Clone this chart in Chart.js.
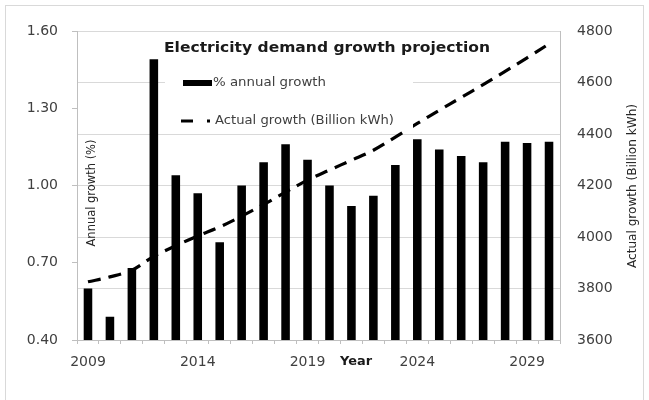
<!DOCTYPE html>
<html><head><meta charset="utf-8">
<script src="https://cdn.jsdelivr.net/npm/chart.js@4/dist/chart.umd.min.js"></script>
<style>html,body{margin:0;padding:0;background:#fff}#wrap{width:649px;height:400px;position:relative}</style>
</head><body><div id="wrap"><canvas id="c" width="649" height="400"></canvas></div>
<script>
const years = ['2009','2010','2011','2012','2013','2014','2015','2016','2017','2018','2019','2020','2021','2022','2023','2024','2025','2026','2027','2028','2029','2030'];
const annualGrowth = [0.60,0.49,0.68,1.49,1.04,0.97,0.78,1.00,1.09,1.16,1.10,1.00,0.92,0.96,1.08,1.18,1.14,1.115,1.09,1.17,1.165,1.17];
const actualGrowth = [3826,3845,3871,3925,3966,4004,4039,4081,4126,4174,4221,4260,4298,4337,4388,4441,4492,4542,4592,4643,4696,4750];
const shownYearLabels = ['2009','2014','2019','2024','2029'];
const leftTicks = [0.40,0.70,1.00,1.30,1.60];
const rightTicks = [3600,3800,4000,4200,4400,4600,4800];
const titleText = 'Electricity demand growth projection';
const barLabel = '% annual growth';
const lineLabel = 'Actual growth (Billion kWh)';
const leftTitle = 'Annual growth (%)';
const rightTitle = 'Actual growth (Billion kWh)';
const xTitle = 'Year';

const FONT = '"DejaVu Sans", sans-serif';
const TXT = '#404040';

function fitText(ctx, text, x, y, font, targetW, rot, align, color) {
  ctx.save();
  ctx.font = font;
  const w = ctx.measureText(text).width;
  const sx = targetW / w;
  ctx.translate(x, y);
  ctx.rotate(rot || 0);
  ctx.scale(sx, 1);
  ctx.textAlign = align || 'center';
  ctx.textBaseline = 'middle';
  ctx.fillStyle = color || TXT;
  ctx.fillText(text, 0, 0);
  ctx.restore();
}

const decor = {
  id: 'decor',
  afterDraw(chart) {
    const ctx = chart.ctx;
    ctx.save();
    ctx.strokeStyle = '#d9d9d9';
    ctx.lineWidth = 1;
    ctx.strokeRect(5.5, 5.5, 638, 420);
    ctx.restore();
    ctx.save();
    ctx.fillStyle = '#fff';
    ctx.fillRect(165, 64, 248, 66);
    ctx.fillStyle = '#000';
    ctx.fillRect(183, 80, 29, 6);
    ctx.strokeStyle = '#000';
    ctx.lineWidth = 3;
    ctx.beginPath(); ctx.moveTo(181, 121); ctx.lineTo(193, 121); ctx.stroke();
    ctx.fillRect(207, 119.5, 3, 3);
    ctx.restore();
    fitText(ctx, barLabel, 213, 83, '12.5px ' + FONT, 113, 0, 'left');
    fitText(ctx, lineLabel, 215, 121, '12.5px ' + FONT, 179, 0, 'left');
    fitText(ctx, titleText, 327, 48, 'bold 14px ' + FONT, 326, 0, 'center', '#1a1a1a');
    fitText(ctx, leftTitle, 92, 193, '12px ' + FONT, 107, -Math.PI / 2, 'center', '#262626');
    fitText(ctx, rightTitle, 633, 186, '13px ' + FONT, 164, -Math.PI / 2, 'center', '#262626');
    fitText(ctx, xTitle, 356, 362, 'bold 13px ' + FONT, 32, 0, 'center', '#1a1a1a');
  }
};

new Chart(document.getElementById('c'), {
  data: {
    labels: years,
    datasets: [
      { type: 'line', label: lineLabel, data: actualGrowth, yAxisID: 'yR', borderColor: '#000', borderWidth: 3.2,
        borderDash: [13, 8], borderCapStyle: 'butt', pointRadius: 0, tension: 0.35, fill: false, order: 1 },
      { type: 'bar', label: barLabel, data: annualGrowth, yAxisID: 'yL', backgroundColor: '#000',
        barPercentage: 0.39, categoryPercentage: 1, order: 2 }
    ]
  },
  options: {
    responsive: false, animation: false, devicePixelRatio: 1,
    layout: { padding: { top: 31, left: 0, right: 0, bottom: 0 } },
    plugins: { legend: { display: false }, title: { display: false }, tooltip: { enabled: false } },
    scales: {
      x: {
        type: 'category',
        grid: { offset: true, drawOnChartArea: false, tickLength: 4, color: '#bfbfbf' },
        border: { color: '#bfbfbf' },
        ticks: { autoSkip: false, maxRotation: 0, minRotation: 0, padding: 10, color: TXT,
          font: { family: FONT, size: 14 },
          callback: (v, i) => shownYearLabels.includes(years[i]) ? years[i] : '' },
        afterFit: s => { s.height = 60; }
      },
      yL: {
        position: 'left', min: 0.4, max: 1.6,
        afterBuildTicks: s => { s.ticks = leftTicks.map(v => ({ value: v })); },
        grid: { drawOnChartArea: false, tickLength: 5, color: '#bfbfbf' },
        border: { color: '#bfbfbf' },
        ticks: { padding: 14, color: TXT, font: { family: FONT, size: 14 }, callback: v => Number(v).toFixed(2) },
        afterFit: s => { s.width = 77; }
      },
      yR: {
        position: 'right', min: 3600, max: 4800,
        afterBuildTicks: s => { s.ticks = rightTicks.map(v => ({ value: v })); },
        grid: { drawOnChartArea: true, drawTicks: false, color: '#d9d9d9' },
        border: { color: '#bfbfbf' },
        ticks: { padding: 17, color: TXT, font: { family: FONT, size: 14 }, callback: v => String(v) },
        afterFit: s => { s.width = 89; }
      }
    }
  },
  plugins: [decor]
});
</script></body></html>
